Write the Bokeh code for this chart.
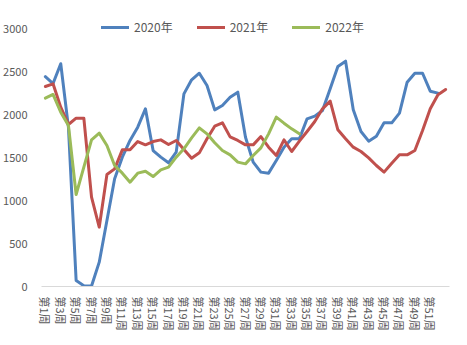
from bokeh.plotting import figure
from bokeh.models import Legend, LegendItem, FixedTicker, Range1d
from bokeh.embed import file_html
from bokeh.resources import INLINE

series_names = ["2020年", "2021年", "2022年"]
colors = ["#4F81BD", "#C0504D", "#9BBB59"]

v2020 = [2440, 2360, 2590, 1850, 70, 10, 5, 283, 767, 1252, 1504, 1698, 1853, 2066, 1581,
         1504, 1438, 1562, 2240, 2403, 2480, 2337, 2054, 2105, 2201, 2260, 1736, 1446, 1330,
         1318, 1465, 1620, 1717, 1717, 1950, 1981, 2047, 2299, 2558, 2620, 2054, 1802, 1690,
         1748, 1903, 1903, 2016, 2376, 2480, 2480, 2271, 2248]
v2021 = [2326, 2357, 2085, 1884, 1957, 1957, 1039, 690, 1302, 1368, 1589, 1589, 1686, 1647,
         1686, 1705, 1651, 1698, 1593, 1492, 1554, 1717, 1864, 1903, 1740, 1698, 1647, 1647,
         1744, 1620, 1523, 1705, 1570, 1690, 1802, 1919, 2066, 2155, 1822, 1717, 1620, 1570,
         1496, 1407, 1330, 1434, 1531, 1531, 1581, 1814, 2066, 2229, 2291]
v2022 = [2190, 2233, 2027, 1872, 1070, 1388, 1705, 1783, 1640, 1407, 1318, 1213, 1318, 1341,
         1279, 1357, 1388, 1504, 1601, 1729, 1845, 1775, 1671, 1581, 1531, 1446, 1426, 1523,
         1612, 1775, 1969, 1899, 1833, 1775]
week_labels = ["第%d周" % i for i in range(1, 54)]
shown_weeks = list(range(1, 52, 2))
y_ticks = [0, 500, 1000, 1500, 2000, 2500, 3000]

FONT = "Noto Sans CJK SC"

# frame spans 276 px; 3000 sits 258 px above the baseline
y_top = 3000 * 276 / 258

p = figure(width=467, height=345, output_backend="svg", toolbar_location=None,
           x_range=Range1d(0.5, len(week_labels) + 0.5), y_range=Range1d(0, y_top),
           min_border_left=36, min_border_right=18, min_border_top=10, min_border_bottom=59)
p.outline_line_color = None
p.xgrid.grid_line_color = None
p.ygrid.grid_line_color = None

items = []
for name, col, vals in zip(series_names, colors, [v2020, v2021, v2022]):
    xs = list(range(1, len(vals) + 1))
    r = p.line(xs, vals, line_color=col, line_width=3, line_join="round", line_cap="round")
    items.append(LegendItem(label=name, renderers=[r]))

# x axis
p.xaxis.ticker = FixedTicker(ticks=shown_weeks)
p.xaxis.major_label_overrides = {i: week_labels[i - 1] for i in shown_weeks}
p.xaxis.major_label_orientation = "vertical"
p.xaxis.axis_line_color = "#D9D9D9"
p.xaxis.axis_line_width = 1
p.xaxis.major_tick_line_color = None
p.xaxis.minor_tick_line_color = None
p.xaxis.major_label_text_font = FONT
p.xaxis.major_label_text_font_size = "11px"
p.xaxis.major_label_text_color = "#595959"
p.xaxis.major_label_standoff = 4

# y axis
p.yaxis.ticker = FixedTicker(ticks=y_ticks)
p.yaxis.axis_line_color = None
p.yaxis.major_tick_line_color = None
p.yaxis.minor_tick_line_color = None
p.yaxis.major_label_text_font = FONT
p.yaxis.major_label_text_font_size = "11px"
p.yaxis.major_label_text_color = "#595959"
p.yaxis.major_label_standoff = 8

legend = Legend(items=items, orientation="horizontal", location=(60, 251),
                border_line_color=None, background_fill_alpha=0,
                label_text_font=FONT, label_text_font_size="12px",
                label_text_color="#595959", glyph_width=28, glyph_height=12,
                spacing=24, label_standoff=5, padding=2, margin=0)
p.add_layout(legend, "center")

open("out.html", "w").write(file_html(p, INLINE))
